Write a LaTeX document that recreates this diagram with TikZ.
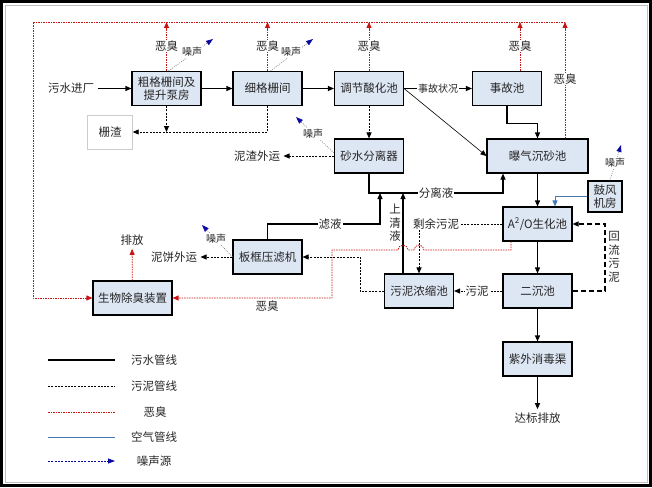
\documentclass[tikz,border=0pt]{standalone}
\usepackage{fontspec}
\setmainfont{Noto Sans CJK SC}
\usetikzlibrary{arrows.meta}
\definecolor{boxfill}{RGB}{221,230,243}
\definecolor{odorred}{RGB}{200,20,20}
\definecolor{noiseblue}{RGB}{10,10,160}
\definecolor{airblue}{RGB}{70,120,180}

\begin{document}
\begin{tikzpicture}[x=1pt,y=-1pt,
		every node/.style={font=\fontsize{11.5}{13.5}\selectfont, text=black!85},
		unit/.style={draw=black, line width=1.1pt, fill=boxfill, minimum width=69pt, minimum height=34pt, align=center, inner sep=1pt},
		lbl/.style={fill=white, inner sep=1pt},
		small/.style={font=\fontsize{10}{12}\selectfont, inner sep=1pt},
		flow/.style={line width=1.1pt, -{Triangle[length=6pt,width=5pt]}},
		sludge/.style={line width=0.9pt, dash pattern=on 2pt off 1.3pt, -{Triangle[length=6pt,width=5pt]}},
		back/.style={line width=1.1pt, dash pattern=on 5pt off 3pt, -{Triangle[length=6pt,width=5pt]}},
		odor/.style={odorred, line width=0.8pt, dash pattern=on 1.5pt off 1pt, -{Triangle[length=6pt,width=5pt]}},
		noise/.style={gray, line width=0.6pt, dash pattern=on 1pt off 1.2pt, -{Triangle[length=7pt,width=5pt,color=noiseblue]}},
		air/.style={airblue, line width=0.8pt, -{Triangle[length=6pt,width=5pt]}}]
		\useasboundingbox (0,0) rectangle (652,487);
		\draw[black!25, line width=0.8pt] (5,5) rectangle (647,482);
		\draw[line width=3pt] (1.5,1.5) rectangle (650.5,485.5);

		\node[unit] (cg) at (166.5,88.5) {粗格栅间及\\提升泵房};
		\node[unit] (xg) at (267.5,88.5) {细格栅间};
		\node[unit] (tj) at (369,88.5) {调节酸化池};
		\node[unit] (sg) at (507,88.5) {事故池};
		\node[unit] (sf) at (369,156) {砂水分离器};
		\node[unit, minimum width=101pt] (pq) at (537.5,156) {曝气沉砂池};
		\node[unit, minimum width=34pt, minimum height=31pt] (gf) at (605,196.5) {鼓风\\机房};
		\node[unit] (ao) at (537.5,224) {A\textsuperscript{2}/O生化池};
		\node[unit] (ec) at (537.5,291) {二沉池};
		\node[unit] (wn) at (419,291) {污泥浓缩池};
		\node[unit] (bk) at (267.5,257) {板框压滤机};
		\node[unit, minimum width=79pt] (cc) at (132.5,298) {生物除臭装置};
		\node[unit] (zw) at (537.5,359) {紫外消毒渠};
		\node[draw=black!20, minimum width=45pt, minimum height=34pt] (zz) at (110,132) {栅渣};

		\node (in) at (71,88.5) {污水进厂};
		\node (out) at (537.5,418) {达标排放};
		\node (nz) at (257,156) {泥渣外运};
		\node (nb) at (174,257) {泥饼外运};
		\node (pf) at (132,240) {排放};

		\draw[flow] (in) -- (cg);
		\draw[flow] (cg) -- (xg);
		\draw[flow] (xg) -- (tj);
		\draw[flow] (tj) -- (sg);
		\node[lbl, small] (zk) at (438,88.5) {事故状况};
		\draw[flow, line width=0.6pt] (tj.east) -- (pq.west);
		\draw[flow] (sg.south) -- ++(0,17) -| (pq.north);
		\draw[flow] (pq) -- (ao);
		\draw[flow] (ao) -- (ec);
		\draw[flow] (ec) -- (zw);
		\draw[flow] (zw) -- (out);
		\draw[flow] (sf.south) |- (503,193) -- (503,193 |- pq.south);
		\node[lbl] (fly) at (436,193) {分离液};
		\draw[flow] (bk.north) |- (380,224) -- (380,193);
		\node[lbl] (ly) at (330,224) {滤液};
		\draw[flow] (403,0 |- wn.north) -- (403,193);
		\node[align=center, inner sep=0pt] (sqy) at (395,223) {上\\清\\液};

		\draw[sludge] (cg.south) -- (cg.south |- zz.east);
		\draw[sludge] (xg.south) |- (zz.east);
		\draw[sludge] (tj) -- (sf);
		\draw[sludge] (sf) -- (nz);
		\draw[sludge] (ao.west) -| (wn.north);
		\node[lbl] (syn) at (436,224) {剩余污泥};
		\draw[sludge] (ec) -- (wn);
		\node[lbl] (wnl) at (477,291) {污泥};
		\draw[sludge] (wn.west) -- (360,291) |- (bk.east);
		\draw[sludge] (bk) -- (nb);
		\draw[back] (ec.east) -- (605,291) |- (ao.east);
		\node[align=center, inner sep=0pt] (hl) at (614,257) {回\\流\\污\\泥};

		\draw[air] (gf.west) -| ([xshift=17.5pt]ao.north);

		\draw[odor] (cg.north) -- (166.5,22);
		\draw[odor] (xg.north) -- (267.5,22);
		\draw[odor] (tj.north) -- (369,22);
		\draw[odor] ([xshift=13pt]sg.north) -- (520,22);
		\draw[odor] ([xshift=27.5pt]pq.north) -- (565,22);
		\draw[odor] (565,22) -- (33,22) -- (33,298) -- (cc.west);
		\draw[odor] ([xshift=-26.5pt]ao.south) -- (511,250) -- (424,250) arc (0:-180:5) -- (408,250) arc (0:-180:5) -- (332,250) |- (cc.east);
		\draw[odor] (cc) -- (pf);
		\node[lbl] (eo1) at (166.5,46) {恶臭};
		\node[lbl] (eo2) at (267.5,46) {恶臭};
		\node[lbl] (eo3) at (369,46) {恶臭};
		\node[lbl] (eo4) at (520,46) {恶臭};
		\node[lbl] (eo5) at (565,79) {恶臭};
		\node (eo6) at (267,306) {恶臭};

		\draw[noise] ([xshift=2pt]cg.north) -- (213,39);
		\node[lbl, small] (zs1) at (192,52) {噪声};
		\draw[noise] ([xshift=3pt]xg.north) -- (313,39);
		\node[lbl, small] (zs2) at (291,52) {噪声};
		\draw[noise] ([yshift=3pt]sf.west) -- (296,117);
		\node[lbl, small] (zs3) at (313,134) {噪声};
		\draw[noise] ([xshift=5pt]gf.north) -- (621,145);
		\node[lbl, small] (zs4) at (615,163) {噪声};
		\draw[noise] (bk.west) -- (202,225);
		\node[lbl, small] (zs5) at (216,239) {噪声};

		\draw[flow, -] (48,360) -- (115,360);
		\node (lg1) at (154,360) {污水管线};
		\draw[sludge, -] (48,386) -- (115,386);
		\node (lg2) at (154,386) {污泥管线};
		\draw[odor, -] (48,412) -- (115,412);
		\node (lg3) at (155,412) {恶臭};
		\draw[air, -] (48,437) -- (115,437);
		\node (lg4) at (154,437) {空气管线};
		\draw[noiseblue, line width=0.8pt, dash pattern=on 2pt off 1.3pt, -{Triangle[length=7pt,width=5pt]}] (48,461) -- (115,461);
		\node (lg5) at (154,461) {噪声源};
\end{tikzpicture}
\end{document}
